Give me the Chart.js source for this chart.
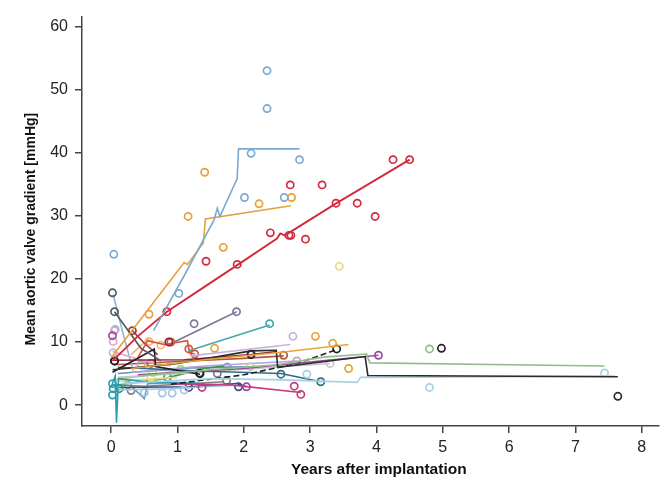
<!DOCTYPE html>
<html lang="en">
<head>
  <meta charset="UTF-8">
  <title>Mean aortic valve gradient</title>
  <style>
    body { margin: 0; background: #fff; }
  </style>
</head>
<body>
  <canvas id="canvas" width="664" height="484"></canvas>
  <script src="https://cdn.jsdelivr.net/npm/chart.js"></script>
  <script type="application/javascript">
    // tick labels
    const xTicks = [0, 1, 2, 3, 4, 5, 6, 7, 8];
    const yTicks = [0, 10, 20, 30, 40, 50, 60];

    // per patient: fitted course (line) and measured gradients (circles), [years, mmHg]
    const fit01 = [[0.64,11.8],[1.1,20.5],[1.55,29.3],[1.6,31.2],[1.64,29.9],[1.9,35.9],[1.92,40.6],[2.84,40.6]];
    const obs01 = [[0.04,23.9],[1.02,17.7],[2.01,32.9],[2.11,39.9],[2.35,47.0],[2.35,53.0],[2.61,32.9],[2.84,38.9]];
    const fit02 = [[0.0,7.5],[1.1,22.6],[1.15,22.3],[1.39,25.7],[1.42,29.5],[2.71,31.6]];
    const obs02 = [[0.57,14.4],[1.16,29.9],[1.41,36.9],[1.69,25.0],[2.23,31.9],[2.72,32.9]];
    const fit03 = [[0.02,7.0],[0.4,10.9],[0.84,14.8],[1.4,18.7],[1.89,22.1],[2.5,26.4],[2.55,27.2],[2.62,26.9],[3.38,31.9],[4.5,38.9]];
    const obs03 = [[0.84,14.8],[1.43,22.8],[1.9,22.3],[2.40,27.3],[2.68,26.9],[2.71,26.9],[2.70,34.9],[2.93,26.3],[3.18,34.9],[3.39,32.0],[3.71,32.0],[3.98,29.9],[4.25,38.9],[4.5,38.9]];
    const fit04 = [[0.05,14.8],[0.45,9.0],[0.75,7.0]];
    const obs04 = [[0.02,17.8],[0.05,14.8]];
    const fit05 = [[0.95,10.0],[1.89,14.8]];
    const obs05 = [[1.25,12.9],[1.89,14.8]];
    const fit06 = [[1.17,8.6],[2.39,12.7]];
    const obs06 = [[2.39,12.9]];
    const fit07 = [[1.2,7.8],[2.7,9.6]];
    const obs07 = [[2.74,10.9],[0.03,8.3]];
    const fit08 = [[0.3,5.8],[1.5,7.3],[2.5,8.3],[3.58,9.6]];
    const obs08 = [[1.56,9.0],[3.08,10.9],[3.34,9.8],[3.58,5.8]];
    const fit09 = [[0.02,5.6],[1.0,6.6],[2.11,8.6],[2.49,8.7],[2.51,6.0],[3.83,7.7],[3.87,4.7],[7.64,4.5]];
    const obs09 = [[7.64,1.4],[2.11,8.0]];
    const fit10 = [[0.4,4.6],[1.5,5.6],[2.5,6.4],[3.2,7.6],[3.85,8.1],[3.9,6.7],[7.44,6.2]];
    const obs10 = [[4.8,8.9]];
    const fit11 = [[0.15,3.4],[1.5,4.2],[2.6,4.0],[3.71,3.6],[3.76,4.4],[7.6,4.6]];
    const obs11 = [[4.8,2.8],[7.44,5.1],[2.95,4.9]];
    const fit12 = [[0.4,4.8],[2.0,5.8],[4.03,7.9]];
    const obs12 = [[4.03,7.9],[0.02,11.0],[2.04,2.9]];
    const fit13 = [[0.9,3.3],[2.0,4.8],[2.8,6.6],[3.4,8.8]];
    const obs13 = [[3.40,8.9],[4.98,9.0]];
    const fit14 = [[0.02,5.2],[0.65,8.9],[0.67,6.1],[1.34,4.9]];
    const obs14 = [[1.34,5.0],[0.05,7.0]];
    const fit15 = [[0.02,7.1],[1.1,7.2],[2.11,8.0],[2.5,8.5]];
    const obs15 = [[0.05,7.0],[0.87,10.0],[2.11,8.1]];
    const fit16 = [[0.4,7.5],[0.55,10.2],[0.8,9.6],[1.15,10.2],[1.18,8.3],[1.26,8.1]];
    const obs16 = [[0.9,10.0],[1.17,8.9],[1.26,8.1]];
    const fit17 = [[0.1,6.0],[1.3,5.4],[2.56,5.0],[3.16,3.7]];
    const obs17 = [[2.56,4.9],[3.16,3.7],[1.33,5.1]];
    const fit18 = [[0.9,3.4],[1.8,3.2],[2.86,2.0]];
    const obs18 = [[2.76,3.0],[2.86,1.7],[1.37,2.8]];
    const fit19 = [[0.0,2.8],[0.06,4.6],[0.08,-2.8],[0.11,4.2],[0.6,3.6],[1.3,3.5]];
    const obs19 = [[0.02,1.6],[0.03,2.6],[0.02,3.4]];
    const fit20 = [[0.1,4.4],[1.6,5.4],[3.3,6.6]];
    const obs20 = [[3.3,6.6],[2.1,6.1]];
    const fit21 = [[0.02,8.5],[0.5,7.0],[0.9,6.2]];
    const obs21 = [[0.03,10.1],[0.05,11.8]];
    const fit22 = [[0.1,3.8],[1.0,4.4]];
    const obs22 = [[3.44,22.0],[0.6,4.4]];
    const fit23 = [[0.05,2.4],[0.9,2.6],[1.9,3.2]];
    const obs23 = [[0.5,2.0],[0.77,1.9],[0.92,1.9],[1.1,2.4]];
    const fit24 = [[0.1,3.2],[0.8,4.2],[1.4,5.8],[1.7,6.2]];
    const obs24 = [[0.85,4.4],[0.12,2.6]];
    const fit25 = [[0.12,2.8],[1.17,2.9],[1.9,3.4],[2.04,2.9]];
    const obs25 = [[1.17,2.8],[1.92,2.9]];
    const fit26 = [[0.02,3.2],[0.5,3.0],[1.7,3.7]];
    const obs26 = [[1.74,3.9],[1.6,5.0],[0.3,2.3]];
    const fit27 = [[0.3,5.2],[1.4,6.2],[2.1,6.6],[2.8,7.0]];
    const obs27 = [[0.45,6.4],[2.8,7.0]];
    const fit28 = [[0.32,11.8],[0.5,9.8],[0.7,8.0]];
    const obs28 = [[0.32,11.8]];
    const fit29 = [[0.03,17.5],[0.2,10.5],[0.33,5.5]];
    const obs29 = [[0.06,12.0]];
    const fit30 = [[0.05,4.0],[0.6,4.8],[1.1,5.6]];
    const obs30 = [[0.62,5.2],[1.05,5.7]];
    const fit31 = [[0.3,8.0],[0.55,10.4],[0.65,9.8]];
    const obs31 = [[0.57,10.1],[0.75,9.5]];
    const fit32 = [[0.3,3.0],[0.5,1.0],[0.55,3.4],[1.0,3.6]];
    const obs32 = [[0.25,3.2]];
    const fit33 = [[0.05,6.4],[1.0,6.9],[2.0,7.4],[2.6,7.8]];
    const obs33 = [[0.6,6.6],[2.6,7.9]];
    const fit34 = [[0.1,5.0],[1.2,5.9],[2.2,6.1]];
    const obs34 = [[1.75,6.0]];

    const patients = [
      { color: '#7aaad2', fit: fit01, obs: obs01 },
      { color: '#e8a03a', fit: fit02, obs: obs02 },
      { color: '#d42a3c', fit: fit03, obs: obs03, width: 1.9 },
      { color: '#55585e', fit: fit04, obs: obs04 },
      { color: '#7c7896', fit: fit05, obs: obs05 },
      { color: '#44a9a6', fit: fit06, obs: obs06 },
      { color: '#c9b0e0', fit: fit07, obs: obs07 },
      { color: '#e9a336', fit: fit08, obs: obs08 },
      { color: '#2b2b2b', fit: fit09, obs: obs09 },
      { color: '#8fc088', fit: fit10, obs: obs10 },
      { color: '#a9d0e2', fit: fit11, obs: obs11 },
      { color: '#9a4a9f', fit: fit12, obs: obs12 },
      { color: '#242424', fit: fit13, obs: obs13, dash: [6, 3] },
      { color: '#1f1f1f', fit: fit14, obs: obs14 },
      { color: '#8d2b3b', fit: fit15, obs: obs15 },
      { color: '#e0503a', fit: fit16, obs: obs16 },
      { color: '#2e6e86', fit: fit17, obs: obs17 },
      { color: '#c43c7c', fit: fit18, obs: obs18 },
      { color: '#2a9db2', fit: fit19, obs: obs19 },
      { color: '#c6c6c6', fit: fit20, obs: obs20 },
      { color: '#e6a3c2', fit: fit21, obs: obs21 },
      { color: '#e9d98a', fit: fit22, obs: obs22 },
      { color: '#9dc5e4', fit: fit23, obs: obs23 },
      { color: '#3b8f5a', fit: fit24, obs: obs24 },
      { color: '#3a4b80', fit: fit25, obs: obs25 },
      { color: '#7e7e7e', fit: fit26, obs: obs26 },
      { color: '#b6a3d6', fit: fit27, obs: obs27 },
      { color: '#9c3c3a', fit: fit28, obs: obs28 },
      { color: '#8fb5d8', fit: fit29, obs: obs29 },
      { color: '#a3d48c', fit: fit30, obs: obs30 },
      { color: '#f2b96a', fit: fit31, obs: obs31 },
      { color: '#5fa0c0', fit: fit32, obs: obs32 },
      { color: '#b4543c', fit: fit33, obs: obs33 },
      { color: '#6c8fb8', fit: fit34, obs: obs34 },
    ];

    const toXY = (pairs) => pairs.map(([x, y]) => ({ x, y }));

    const datasets = [];
    patients.forEach((p) => {
      datasets.push({
        data: toXY(p.fit),
        showLine: true,
        borderColor: p.color,
        borderWidth: p.width || 1.6,
        borderDash: p.dash || [],
        pointRadius: 0,
        tension: 0,
      });
      datasets.push({
        data: toXY(p.obs),
        showLine: false,
        borderColor: p.color,
        backgroundColor: 'rgba(0,0,0,0)',
        borderWidth: 1.7,
        pointRadius: 3.6,
      });
    });

    const axisColor = '#444';
    const tickFont = { family: 'Liberation Sans, Arial, sans-serif', size: 16 };

    const canvas = document.querySelector('canvas');
    new Chart(canvas, {
      type: 'scatter',
      data: { datasets },
      options: {
        responsive: false,
        animation: false,
        layout: { padding: { top: 14, left: 0, right: 0, bottom: 0 } },
        plugins: { legend: { display: false }, tooltip: { enabled: false } },
        scales: {
          x: {
            type: 'linear',
            min: -0.44,
            max: 8.25,
            afterBuildTicks: (scale) => { scale.ticks = xTicks.map((v) => ({ value: v })); },
            afterFit: (scale) => { scale.height = 58; },
            border: { color: axisColor, width: 1.5 },
            grid: { drawOnChartArea: false, drawTicks: true, tickLength: 7, color: axisColor, lineWidth: 1.5 },
            ticks: { color: '#222', font: tickFont, padding: 5, maxRotation: 0 },
            title: {
              display: true,
              // leading no-break spaces push the centred title slightly right
              text: '\u00a0\u00a0\u00a0\u00a0Years after implantation',
              color: '#111',
              font: { family: 'Liberation Sans, Arial, sans-serif', size: 15.5, weight: 'bold' },
              padding: { top: 0, bottom: 5 },
            },
          },
          y: {
            type: 'linear',
            min: -3.31,
            max: 61.57,
            afterBuildTicks: (scale) => { scale.ticks = yTicks.map((v) => ({ value: v })); },
            afterFit: (scale) => { scale.width = 82; },
            border: { color: axisColor, width: 1.5 },
            grid: { drawOnChartArea: false, drawTicks: true, tickLength: 7, color: axisColor, lineWidth: 1.5 },
            ticks: { color: '#222', font: tickFont, padding: 7 },
            title: {
              display: true,
              // trailing no-break spaces nudge the rotated title a little lower
              text: 'Mean aortic valve gradient [mmHg]\u00a0\u00a0\u00a0\u00a0',
              color: '#111',
              font: { family: 'Liberation Sans, Arial, sans-serif', size: 14, weight: 'bold' },
              padding: { top: 23, bottom: 0 },
            },
          },
        },
      },
    });
  </script>
</body>
</html>
